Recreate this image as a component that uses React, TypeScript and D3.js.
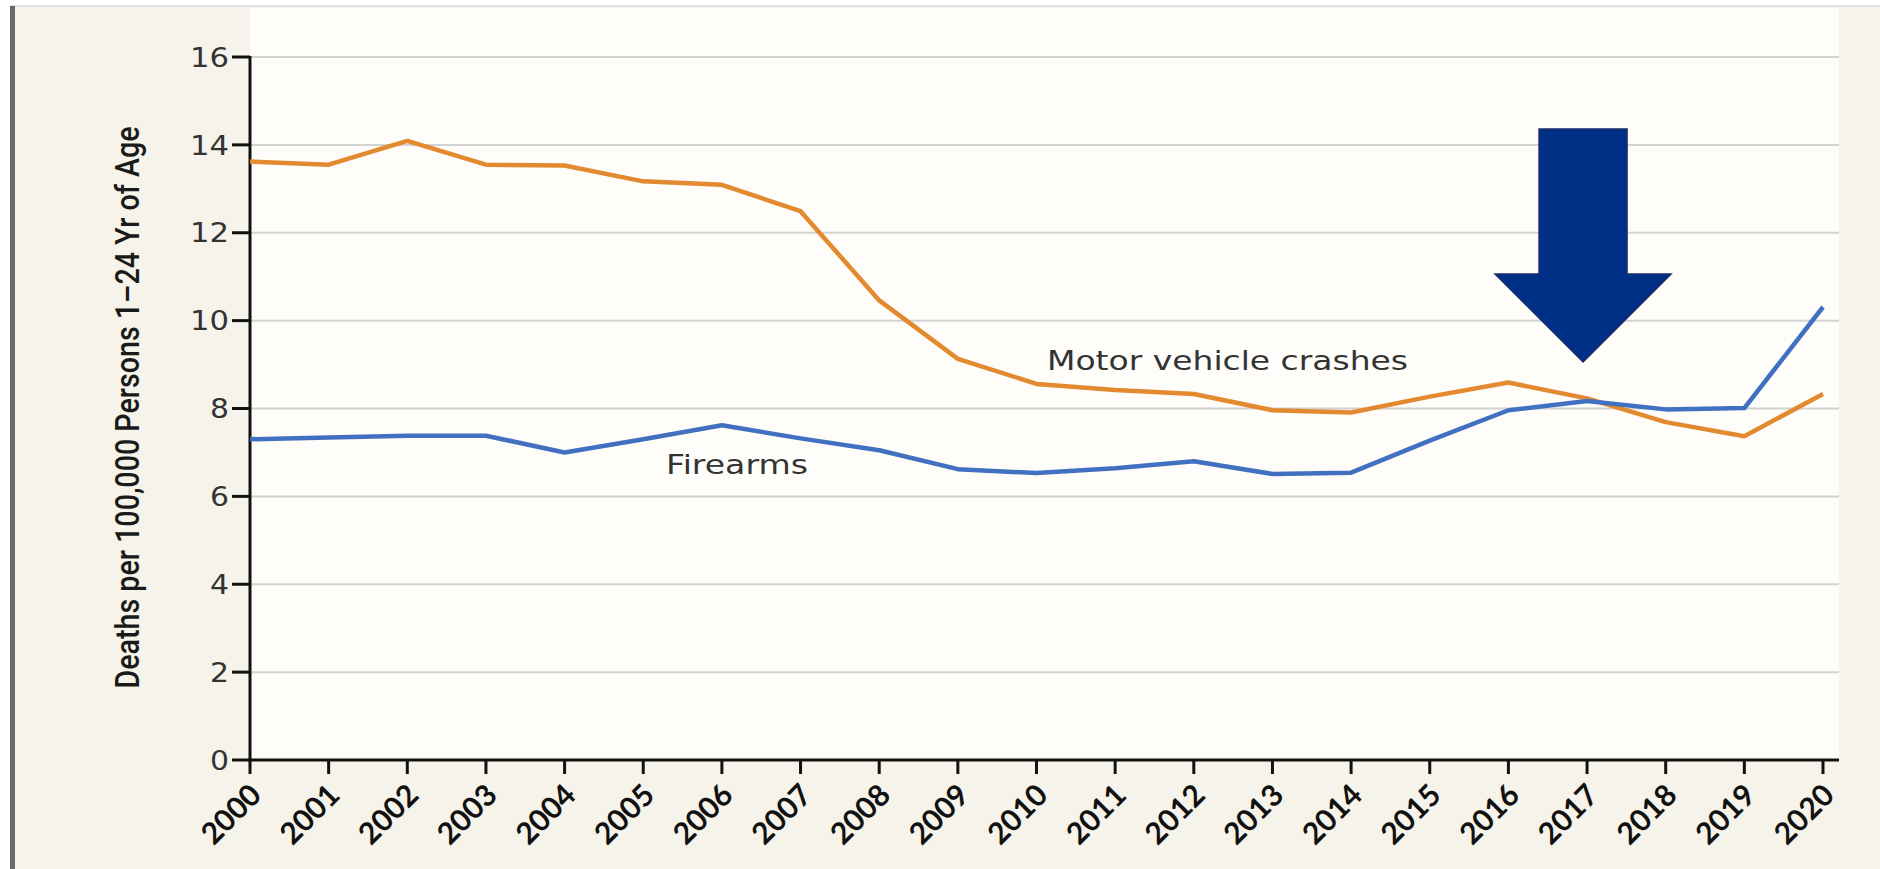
import React from "react";
import * as d3 from "d3";

const years = [2000, 2001, 2002, 2003, 2004, 2005, 2006, 2007, 2008, 2009, 2010, 2011, 2012, 2013, 2014, 2015, 2016, 2017, 2018, 2019, 2020];
const motorVehicle = [13.62, 13.55, 14.09, 13.55, 13.53, 13.17, 13.09, 12.49, 10.46, 9.13, 8.56, 8.42, 8.33, 7.96, 7.91, 8.27, 8.59, 8.23, 7.69, 7.37, 8.33];
const firearms = [7.30, 7.34, 7.38, 7.38, 7.00, 7.30, 7.62, 7.32, 7.05, 6.62, 6.53, 6.64, 6.80, 6.51, 6.54, 7.27, 7.96, 8.17, 7.98, 8.01, 10.31];
const yTicks = [0, 2, 4, 6, 8, 10, 12, 14, 16];
const yTitle = "Deaths per 100,000 Persons 1\u201324 Yr of Age";
const motorLabel = "Motor vehicle crashes";
const firearmsLabel = "Firearms";

const W = 1880;
const H = 869;
const ORANGE = "#E3892F";
const BLUE = "#4170C0";

export default function App() {
  const x = d3.scalePoint<number>().domain(years).range([250, 1823]);
  const y = d3.scaleLinear().domain([0, 16]).range([760, 57]);
  const line = d3
    .line<number>()
    .x((_, i) => x(years[i]) as number)
    .y((d) => y(d));

  // arrow annotation pointing at 2017 crossing
  const tipX = (x(2017) as number) - 4;
  const tipY = 362;
  const arrowPath = [
    [tipX - 44, 129],
    [tipX + 44, 129],
    [tipX + 44, 274],
    [tipX + 88, 274],
    [tipX, tipY],
    [tipX - 88, 274],
    [tipX - 44, 274],
  ];

  return (
    <svg
      width={W}
      height={H}
      style={{ position: "absolute", left: 0, top: 0, display: "block" }}
      xmlns="http://www.w3.org/2000/svg"
    >
      <rect x={0} y={0} width={W} height={H} fill="#ffffff" />
      <rect x={10} y={6} width={W - 10} height={H - 6} fill="#F6F4EA" />
      <line x1={10} x2={W} y1={6} y2={6} stroke="#d8d8d8" strokeWidth={1.5} />
      <rect x={10} y={6} width={5} height={H - 6} fill="#6a6a6a" />
      {/* plot background */}
      <rect x={250} y={8} width={1839 - 250} height={760 - 8} fill="#FEFDF9" />

      {/* gridlines */}
      {yTicks
        .filter((t) => t > 0)
        .map((t) => (
          <line key={"g" + t} x1={250} x2={1839} y1={y(t)} y2={y(t)} stroke="#d2d2d2" strokeWidth={2} />
        ))}

      {/* y axis */}
      <line x1={250} x2={250} y1={y(16) - 1} y2={761.5} stroke="#111" strokeWidth={3} />
      {yTicks.map((t) => (
        <g key={"yt" + t}>
          <line x1={232} x2={250} y1={y(t)} y2={y(t)} stroke="#111" strokeWidth={3} />
          <text
            x={229}
            y={y(t)}
            dy="0.36em"
            textAnchor="end"
            fontFamily="'DejaVu Sans', sans-serif"
            fontSize={27}
            textLength={t >= 10 ? 39 : 19}
            lengthAdjust="spacingAndGlyphs"
            fill="#333"
          >
            {t}
          </text>
        </g>
      ))}

      {/* x axis */}
      <line x1={248.5} x2={1839} y1={760} y2={760} stroke="#111" strokeWidth={3} />
      {years.map((yr) => {
        const px = x(yr) as number;
        return (
          <g key={"xt" + yr}>
            <line x1={px} x2={px} y1={760} y2={774} stroke="#111" strokeWidth={3} />
            <text
              transform={`translate(${px + 13},797) rotate(-45)`}
              textAnchor="end"
              fontFamily="Lato, 'Open Sans', sans-serif"
              fontWeight={700}
              fontSize={30}
              fill="#111"
            >
              {yr}
            </text>
          </g>
        );
      })}

      {/* y title */}
      <text
        transform="translate(139,407.5) rotate(-90)"
        textAnchor="middle"
        fontFamily="Roboto, sans-serif"
        fontWeight={500}
        fontSize={34}
        textLength={562}
        lengthAdjust="spacingAndGlyphs"
        fill="#1a1a1a"
      >
        {yTitle}
      </text>

      {/* series */}
      <path d={line(motorVehicle) || ""} fill="none" stroke={ORANGE} strokeWidth={4.5} strokeLinejoin="round" />
      <path d={line(firearms) || ""} fill="none" stroke={BLUE} strokeWidth={4.5} strokeLinejoin="round" />

      {/* labels */}
      <text
        x={1047}
        y={370}
        fontFamily="'DejaVu Sans', sans-serif"
        fontSize={26.5}
        textLength={361}
        lengthAdjust="spacingAndGlyphs"
        fill="#333"
      >
        {motorLabel}
      </text>
      <text
        x={666}
        y={474}
        fontFamily="'DejaVu Sans', sans-serif"
        fontSize={26.5}
        textLength={142}
        lengthAdjust="spacingAndGlyphs"
        fill="#333"
      >
        {firearmsLabel}
      </text>

      {/* arrow */}
      <polygon
        points={arrowPath.map((p) => p.join(",")).join(" ")}
        fill="#002F86"
        stroke="#1b2c6a"
        strokeWidth={1.5}
      />
    </svg>
  );
}
